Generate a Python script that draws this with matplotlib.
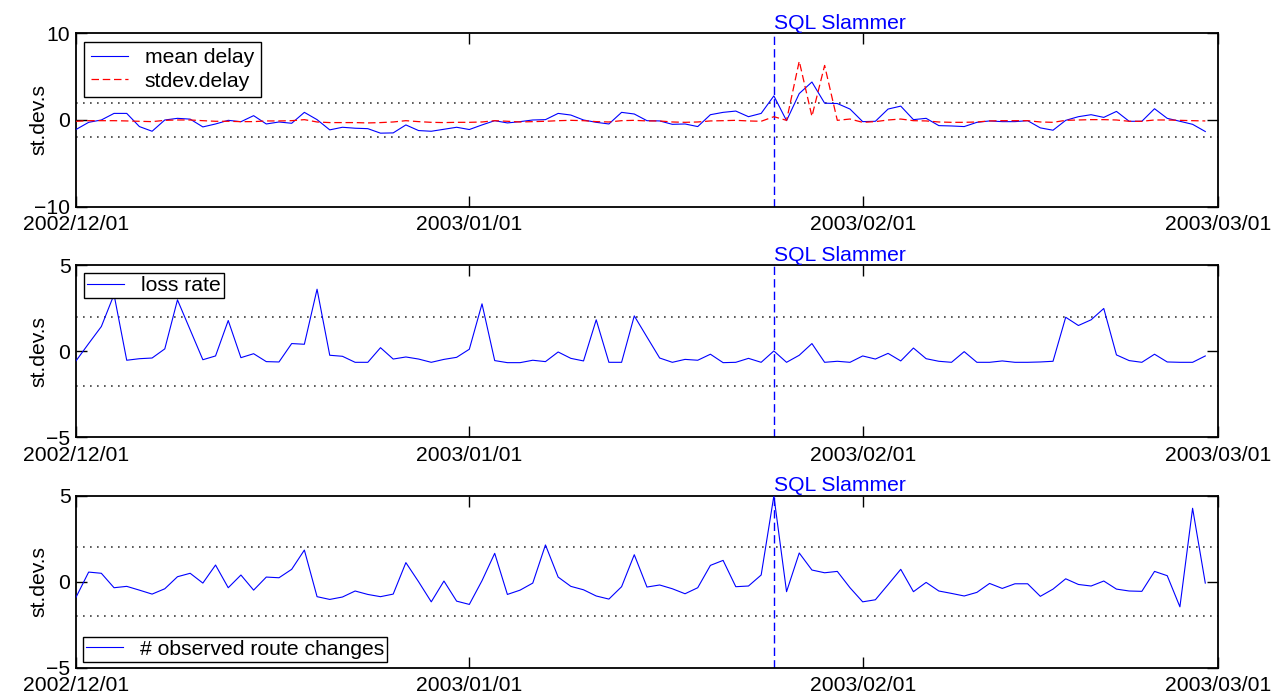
import matplotlib
matplotlib.use("Agg")
import matplotlib.pyplot as plt
import matplotlib.dates as mdates
import matplotlib.transforms as mtransforms
import numpy as np

plt.rcParams["font.family"] = ["Liberation Sans", "DejaVu Sans"]
plt.rcParams["font.size"] = 15.2

# daily samples starting 2002/12/01 (90 days)
days = np.arange(np.datetime64("2002-12-01"), np.datetime64("2003-03-01"))
slammer = np.datetime64("2003-01-25")
xticks = [np.datetime64(d) for d in ("2002-12-01", "2003-01-01", "2003-02-01", "2003-03-01")]

mean_delay = [
    -1.1, -0.27, 0.0, 0.76, 0.76, -0.76, -1.3, 0.0, 0.19, 0.1,
    -0.8, -0.46, -0.04, -0.2, 0.5, -0.46, -0.23, -0.38, 0.88, 0.04,
    -1.14, -0.84, -0.95, -1.0, -1.52, -1.49, -0.57, -1.22, -1.3, -1.07,
    -0.84, -1.1, -0.57, -0.08, -0.34, -0.19, 0.0, 0.04, 0.76, 0.57,
    0.0, -0.27, -0.46, 0.88, 0.69, -0.08, -0.11, -0.5, -0.46, -0.76,
    0.61, 0.88, 1.03, 0.38, 0.76, 2.78, -0.08, 3.05, 4.38, 1.94,
    1.9, 1.26, -0.19, -0.15, 1.26, 1.6, 0.04, 0.19, -0.65, -0.69,
    -0.76, -0.27, -0.11, -0.19, -0.19, -0.08, -0.91, -1.18, -0.04, 0.38,
    0.61, 0.3, 0.99, -0.15, -0.15, 1.3, 0.19, -0.15, -0.5, -1.33,
]
stdev_delay = [
    -0.15, -0.08, -0.08, -0.08, -0.11, -0.15, -0.19, -0.04, 0.0, 0.0,
    -0.08, -0.15, -0.15, -0.19, -0.19, -0.11, -0.11, -0.08, 0.04, -0.23,
    -0.30, -0.30, -0.30, -0.34, -0.30, -0.23, -0.08, -0.19, -0.27, -0.30,
    -0.27, -0.27, -0.23, -0.08, -0.15, -0.23, -0.19, -0.15, -0.08, -0.04,
    -0.08, -0.19, -0.23, -0.08, -0.04, -0.11, -0.11, -0.23, -0.27, -0.23,
    -0.11, -0.08, -0.04, -0.11, -0.15, 0.38, -0.04, 6.78, 0.42, 6.29,
    -0.04, 0.11, -0.27, -0.19, 0.0, 0.11, -0.08, -0.11, -0.23, -0.27,
    -0.27, -0.23, -0.11, -0.08, -0.08, -0.08, -0.23, -0.27, -0.04, 0.0,
    0.04, 0.04, 0.0, -0.15, -0.15, 0.0, 0.0, -0.04, -0.08, -0.11,
]
loss_rate = [
    -0.56, 0.45, 1.44, 3.3, -0.52, -0.43, -0.39, 0.14, 2.99, 1.25,
    -0.49, -0.27, 1.79, -0.37, -0.14, -0.6, -0.62, 0.45, 0.41, 3.61,
    -0.23, -0.29, -0.64, -0.64, 0.21, -0.45, -0.33, -0.45, -0.64, -0.47,
    -0.35, 0.12, 2.76, -0.54, -0.66, -0.66, -0.52, -0.6, -0.04, -0.41,
    -0.56, 1.83, -0.64, -0.64, 2.06, 0.83, -0.39, -0.64, -0.47, -0.52,
    -0.17, -0.66, -0.64, -0.41, -0.64, 0.02, -0.64, -0.23, 0.45, -0.64,
    -0.58, -0.64, -0.27, -0.45, -0.12, -0.56, 0.19, -0.43, -0.58, -0.64,
    -0.02, -0.64, -0.64, -0.56, -0.64, -0.64, -0.62, -0.58, 1.98, 1.5,
    1.83, 2.49, -0.21, -0.54, -0.64, -0.17, -0.62, -0.64, -0.64, -0.27,
]
route_changes = [
    -0.91, 0.56, 0.49, -0.35, -0.27, -0.49, -0.72, -0.41, 0.29, 0.49,
    -0.08, 0.97, -0.35, 0.39, -0.49, 0.27, 0.23, 0.72, 1.84, -0.87,
    -1.03, -0.89, -0.54, -0.74, -0.87, -0.72, 1.11, 0.0, -1.17, 0.04,
    -1.13, -1.32, 0.06, 1.65, -0.74, -0.49, -0.08, 2.14, 0.27, -0.27,
    -0.47, -0.83, -1.01, -0.29, 1.57, -0.31, -0.19, -0.41, -0.7, -0.35,
    0.95, 1.24, -0.29, -0.25, 0.39, 4.99, -0.58, 1.67, 0.68, 0.52,
    0.6, -0.35, -1.17, -1.05, -0.17, 0.72, -0.58, -0.04, -0.54, -0.68,
    -0.83, -0.62, -0.1, -0.39, -0.12, -0.12, -0.85, -0.43, 0.17, -0.16,
    -0.25, 0.04, -0.43, -0.54, -0.56, 0.6, 0.35, -1.46, 4.27, -0.08,
]

fig = plt.figure(figsize=(12.81, 6.98), dpi=100)
left, width = 0.0593, 0.8915
ax1 = fig.add_axes([left, 0.7039, width, 0.2484])
ax2 = fig.add_axes([left, 0.3735, width, 0.2464])
ax3 = fig.add_axes([left, 0.0434, width, 0.2464])

legend_kw = dict(borderaxespad=0, fancybox=False, edgecolor="black", framealpha=1,
                 handlelength=1.75, handletextpad=0.8)


def style_panel(ax, ylim, yticks):
    ax.set_xlim(xticks[0], xticks[-1])
    ax.set_ylim(*ylim)
    ax.set_xticks(xticks)
    ax.set_yticks(yticks)
    ax.xaxis.set_major_formatter(mdates.DateFormatter("%Y/%m/%d"))
    ax.tick_params(direction="in", length=8, width=1.0, top=True, right=True)
    ax.tick_params(axis="x", pad=6)
    ax.tick_params(axis="y", pad=4)
    for s in ax.spines.values():
        s.set_linewidth(1.3)
    for lvl in (2, -2):
        ax.axhline(lvl, color="0.25", linestyle=(0, (1, 3.2)), linewidth=1.2, zorder=1)
    ax.axvline(slammer, color="#0000ff", linestyle=(0, (6, 3)), linewidth=1.0, zorder=2)
    trans = mtransforms.blended_transform_factory(ax.transData, ax.transAxes)
    ax.text(slammer, 1.003, "SQL Slammer", transform=trans, color="#0000ff",
            ha="left", va="bottom")
    ax.set_ylabel("st.dev.s")
    ax.yaxis.set_label_coords(-0.024, 0.5)


style_panel(ax1, (-10, 10), [-10, 0, 10])
ax1.plot(days, mean_delay, color="#0000ff", linewidth=0.8, label="mean delay", zorder=3)
ax1.plot(days, stdev_delay, color="#ff0000", linestyle=(0, (6, 3)), linewidth=0.9,
         label="stdev.delay", zorder=3)
ax1.legend(loc="upper left", bbox_to_anchor=(0.007, 0.952), labelspacing=0.2,
           borderpad=0.32, **legend_kw)

style_panel(ax2, (-5, 5), [-5, 0, 5])
ax2.plot(days, loss_rate, color="#0000ff", linewidth=0.8, label="loss rate", zorder=3)
ax2.legend(loc="upper left", bbox_to_anchor=(0.007, 0.955), borderpad=0.15, **legend_kw)

style_panel(ax3, (-5, 5), [-5, 0, 5])
ax3.plot(days, route_changes, color="#0000ff", linewidth=0.8,
         label="# observed route changes", zorder=3)
ax3.legend(loc="lower left", bbox_to_anchor=(0.006, 0.033), borderpad=0.15, **legend_kw)

for ax in (ax1, ax2, ax3):
    ax.get_legend().get_frame().set_linewidth(1.0)

fig.savefig("out.png", dpi=100)
